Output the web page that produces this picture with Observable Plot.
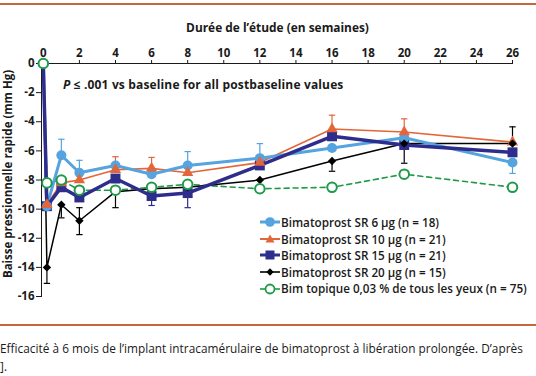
<!DOCTYPE html>
<html>
<head>
<meta charset="utf-8">
<script src="https://cdn.jsdelivr.net/npm/d3@7"></script>
<script src="https://cdn.jsdelivr.net/npm/@observablehq/plot@0.6"></script>
<style>
  html, body { margin: 0; padding: 0; background: #fff; }
  body { width: 536px; height: 376px; overflow: hidden; position: relative; font-family: "Open Sans", Roboto, sans-serif; color: #1a1a1a; }
  .rule { position: absolute; left: 0; width: 536px; height: 2px; background: #c4663e; }
  #chart { position: absolute; left: 0; top: 6px; }
  #xtitle { position: absolute; top: 19px; left: 0; width: 555px; text-align: center; font-weight: bold; font-size: 11.9px; }
  #ytitle { position: absolute; left: 7px; top: 174px; transform: translate(-50%, -50%) rotate(-90deg); white-space: nowrap; font-weight: bold; font-size: 11.5px; }
  #note { position: absolute; left: 63px; top: 76px; font-weight: bold; font-size: 12px; letter-spacing: 0.15px; white-space: nowrap; }
  #legend { position: absolute; left: 259px; top: 214px; font-size: 11.7px; font-weight: 600; }
  #legend .row { height: 16.6px; line-height: 16.6px; white-space: nowrap; display: flex; align-items: center; }
  #legend svg { width: 22px; height: 14px; flex: none; }
  #caption { position: absolute; left: 0px; top: 339px; font-size: 11.8px; letter-spacing: 0.03px; line-height: 18px; white-space: nowrap; }
</style>
</head>
<body>
<div class="rule" style="top:3px"></div>
<div id="chart"></div>
<div id="xtitle">Durée de l’étude (en semaines)</div>
<div id="ytitle">Baisse pressionnelle rapide (mm Hg)</div>
<div id="note"><i>P</i> ≤ .001 vs baseline for all postbaseline values</div>
<div id="legend"></div>
<div class="rule" style="top:324px"></div>
<div id="caption">Efficacité à 6 mois de l’implant intracamérulaire de bimatoprost à libération prolongée. D’après<br>].</div>
<script>
// ---- data ----
const weeks = [0, 0.2, 1, 2, 4, 6, 8, 12, 16, 20, 26];
const sr6 = [0, -9.8, -6.3, -7.5, -7.0, -7.6, -7.0, -6.5, -5.8, -5.1, -6.8];
const sr10 = [0, -9.7, -8.2, -8.0, -7.3, -7.2, -7.5, -6.8, -4.5, -4.7, -5.4];
const sr15 = [0, -9.8, -8.5, -9.2, -7.9, -9.1, -8.9, -7.0, -5.0, -5.6, -6.1];
const sr20 = [0, -14.0, -9.7, -10.8, -8.8, -8.6, -8.5, -8.0, -6.7, -5.5, -5.5];
const topical = [0, -8.2, -8.0, -8.7, -8.7, -8.5, -8.3, -8.6, -8.5, -7.6, -8.5];

// error bars: [week, end value]
const err6 = [[1, -5.2], [2, -6.65], [8, -6.05], [12, -5.5], [26, -7.55]];
const err10 = [[4, -6.4], [6, -6.45], [16, -3.55], [20, -3.8]];
const err15 = [[6, -9.75], [8, -9.9]];
const err20 = [[0.2, -15.1], [1, -10.6], [2, -11.75], [2, -9.9], [4, -9.9], [16, -7.4], [20, -6.85], [26, -4.35]];

const seriesNames = [
  "Bimatoprost SR 6 µg (n = 18)",
  "Bimatoprost SR 10 µg (n = 21)",
  "Bimatoprost SR 15 µg (n = 21)",
  "Bimatoprost SR 20 µg (n = 15)",
  "Bim topique 0,03 % de tous les yeux (n = 75)"
];
const xTicks = [0, 2, 4, 6, 8, 10, 12, 14, 16, 18, 20, 22, 24, 26];
const yTicks = [0, -2, -4, -6, -8, -10, -12, -14, -16];

// ---- styles ----
const colors = ["#55a3df", "#e3663a", "#2e2d8c", "#000000", "#1f9a49"];

const valuesList = [sr6, sr10, sr15, sr20, topical];
const errList = [err6, err10, err15, err20, []];
const rows = valuesList.map(vals => weeks.map((w, i) => ({week: w, value: vals[i]})));
const errRows = errList.map((errs, k) => errs.map(([w, end]) => ({week: w, value: valuesList[k][weeks.indexOf(w)], end})));

const cap = { draw(ctx, size) { const r = Math.sqrt(size / Math.PI); ctx.moveTo(-r, 0); ctx.lineTo(r, 0); } };

const lineW = [3, 1.6, 3.5, 1.5, 1.6];
const marks = [];
errRows.forEach((er, k) => {
  if (!er.length) return;
  marks.push(Plot.ruleX(er, {x: "week", y1: "value", y2: "end", stroke: colors[k], strokeWidth: 1.2}));
  marks.push(Plot.dot(er, {x: "week", y: "end", symbol: cap, r: 3.2, stroke: colors[k], strokeWidth: 1.2}));
});
[4, 3, 1, 0, 2].forEach(k => {
  marks.push(Plot.line(rows[k], {x: "week", y: "value", stroke: colors[k], strokeWidth: lineW[k],
    strokeDasharray: k === 4 ? "5,4" : null, curve: "linear"}));
});
const post = k => rows[k].filter(d => d.week > 0);
marks.push(Plot.dot(post(2), {x: "week", y: "value", symbol: "square", r: 5.6, fill: colors[2]}));
marks.push(Plot.dot(post(0), {x: "week", y: "value", symbol: "circle", r: 5, fill: colors[0]}));
marks.push(Plot.dot(post(1), {x: "week", y: "value", symbol: "triangle", r: 4.2, fill: colors[1]}));
marks.push(Plot.dot(post(3), {x: "week", y: "value", symbol: "diamond2", r: 3.8, fill: colors[3]}));
marks.push(Plot.dot(rows[4], {x: "week", y: "value", symbol: "circle", r: 4.8, fill: "white", stroke: colors[4], strokeWidth: 2}));

const chart = Plot.plot({
  width: 536,
  height: 318,
  marginTop: 57,
  marginBottom: 28,
  marginLeft: 41,
  marginRight: 24,
  x: {domain: [-0.1, 26], ticks: xTicks, axis: "top", tickSize: 4, tickPadding: 3, line: true, label: null, tickFormat: d => String(d)},
  y: {domain: [-16, 0], ticks: yTicks, tickSize: 5, tickPadding: 2, line: true, label: null, tickFormat: d => String(d)},
  style: {fontFamily: "'Open Sans', sans-serif", fontSize: "11.5px", fontWeight: "bold", background: "transparent", color: "#1a1a1a", overflow: "visible"},
  marks
});
document.getElementById("chart").appendChild(chart);

// ---- legend ----
const sym = [
  c => `<circle cx="11" cy="7" r="4.8" fill="${c}"/>`,
  c => `<path d="M11,2.5 L15.5,10.5 L6.5,10.5 Z" fill="${c}"/>`,
  c => `<rect x="6.5" y="2.5" width="9" height="9" fill="${c}"/>`,
  c => `<path d="M11,3.3 L14.7,7 L11,10.7 L7.3,7 Z" fill="${c}"/>`,
  c => `<circle cx="11" cy="7" r="4.5" fill="white" stroke="${c}" stroke-width="1.8"/>`
];
const lw = [3, 2, 3, 1.6, 1.6];
const leg = document.getElementById("legend");
seriesNames.forEach((name, k) => {
  const row = document.createElement("div");
  row.className = "row";
  row.innerHTML = `<svg viewBox="0 0 22 14"><line x1="1" x2="21" y1="7" y2="7" stroke="${colors[k]}" stroke-width="${lw[k]}"/>${sym[k](colors[k])}</svg><span>${name}</span>`;
  leg.appendChild(row);
});
</script>
</body>
</html>
